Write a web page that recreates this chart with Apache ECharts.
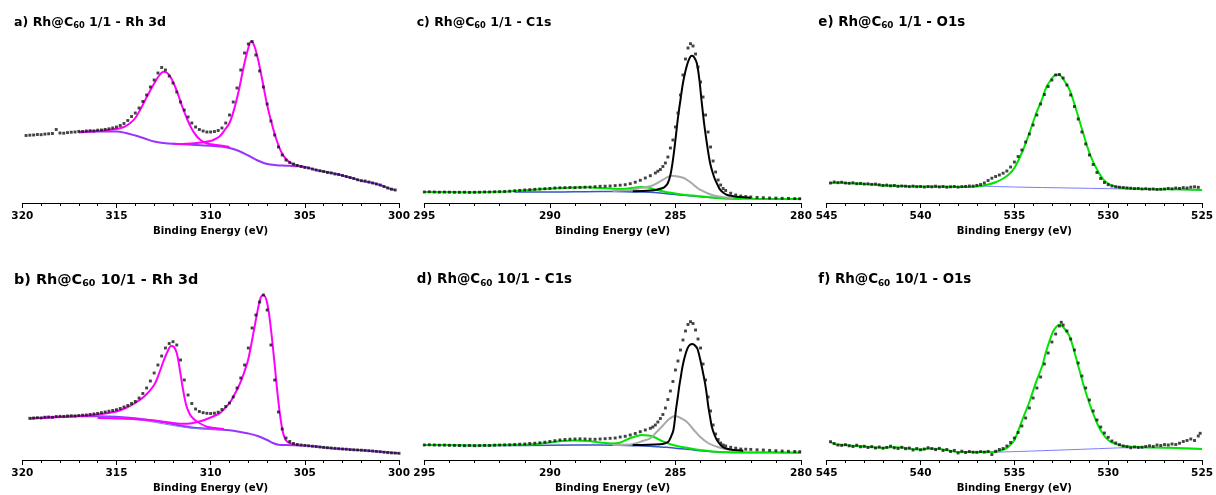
<!DOCTYPE html>
<html><head><meta charset="utf-8">
<script src="https://cdn.jsdelivr.net/npm/echarts@6/dist/echarts.min.js"></script>
<style>html,body{margin:0;padding:0;background:#fff}#c{width:1216px;height:495px}</style>
</head><body><div id="c"></div>
<script>
// ---------- text ----------
const panelLetters = ['a)', 'b)', 'c)', 'd)', 'e)', 'f)'];
const panelRatios = ['1/1', '10/1', '1/1', '10/1', '1/1', '10/1'];
const panelRegions = ['Rh 3d', 'Rh 3d', 'C1s', 'C1s', 'O1s', 'O1s'];
const axisTitle = 'Binding Energy (eV)';
// x ranges [min, max] (axis drawn high -> low)
const xRanges = [[300, 320], [300, 320], [280, 295], [280, 295], [525, 545], [525, 545]];
const xStep = 5;

// ---------- a) Rh@C60 1/1 - Rh 3d ----------
const dataA = [[319.8,67.5],[319.6,67.8],[319.4,68],[319.2,68.5],[319.0,68.3],[318.8,68.9],[318.6,69.2],[318.4,69.5],[318.2,73.5],[318.0,70],[317.8,69.8],[317.6,70.4],[317.4,70.8],[317.2,71],[317.0,71.6],[316.8,71.5],[316.6,72],[316.4,72.3],[316.2,72.1],[316.0,72.8],[315.8,73],[315.6,73.6],[315.4,74.2],[315.2,75],[315.0,76],[314.8,77.5],[314.6,79.5],[314.4,82.5],[314.2,86.5],[314.0,90],[313.8,95],[313.6,101.5],[313.4,108],[313.2,116],[313.0,123],[312.8,130],[312.6,135.5],[312.4,133],[312.2,127],[312.0,120],[311.8,111],[311.6,101],[311.4,93],[311.2,86],[311.0,80],[310.8,76],[310.6,73.5],[310.4,72],[310.2,71],[310.0,71],[309.8,71.5],[309.6,72.5],[309.4,75],[309.2,80],[309.0,88],[308.8,101],[308.6,115],[308.4,133],[308.2,150],[308.0,159],[307.8,161.5],[307.6,148],[307.4,132],[307.2,116],[307.0,99],[306.8,82],[306.6,68],[306.4,56],[306.2,48],[306.0,43],[305.8,40.5],[305.6,39],[305.4,37.5],[305.2,36.5],[305.0,35.5],[304.8,35],[304.6,34],[304.4,33],[304.2,32.2],[304.0,31.5],[303.8,30.5],[303.6,30],[303.4,29],[303.2,28.5],[303.0,27.5],[302.8,26.5],[302.6,25.5],[302.4,24.5],[302.2,23.2],[302.0,22.3],[301.8,22],[301.6,21],[301.4,20],[301.2,19],[301.0,18],[300.8,16.5],[300.6,15],[300.4,13.8],[300.2,13]];
const bgA = [[317,70.5],[316,71.5],[315,71.5],[314.5,70],[314,67.5],[313.5,64.5],[313,61.5],[312.5,60],[312,59.2],[311,58.3],[310,57.3],[309.5,56.5],[309,55],[308.5,52],[308,47.5],[307.5,42.5],[307,39],[306.5,37.8],[306,37.3],[305.5,36.8],[305,36],[304.5,33.5],[304,31.5],[303.5,29.8],[303,27.5],[302.5,25],[302,22.3],[301.5,20.5],[301,18],[300.5,14.5],[300.2,13]];
const peak1A = [[317,71],[316,72],[315.5,73],[315,74],[314.6,76],[314.3,79.5],[314,85],[313.75,93],[313.5,102],[313.25,111],[313,119.5],[312.75,127],[312.5,131.3],[312.3,130],[312.1,125],[311.9,117],[311.7,107],[311.5,96],[311.25,84],[311,74],[310.75,67],[310.5,62.5],[310.25,60],[310,58.8],[309.5,57.5],[309,56]];
const peak2A = [[312,59.3],[311.5,59],[311,59.5],[310.5,60.5],[310,62],[309.75,64],[309.5,67],[309.25,73],[309,80],[308.75,94],[308.5,113],[308.25,136],[308.0,155],[307.85,161.5],[307.7,158],[307.5,145],[307.25,122],[307,98],[306.75,79],[306.5,63],[306.25,51],[306,44],[305.75,40],[305.5,38],[305.25,37],[305,36]];

// ---------- b) Rh@C60 10/1 - Rh 3d ----------
const dataB = [[319.6,41.7],[319.4,42],[319.2,42.3],[319.0,42],[318.8,42.8],[318.6,43],[318.4,42.7],[318.2,43.5],[318.0,43.7],[317.8,43.6],[317.6,44],[317.4,44.2],[317.2,44.1],[317.0,44.5],[316.8,44.8],[316.6,45],[316.4,45.5],[316.2,46],[316.0,46.6],[315.8,47.3],[315.6,48],[315.4,48.8],[315.2,49.5],[315.0,50.3],[314.8,51.5],[314.6,53],[314.4,54.5],[314.2,56.5],[314.0,58.5],[313.8,62],[313.6,66.5],[313.4,72],[313.2,79],[313.0,87],[312.8,95],[312.6,104],[312.4,112],[312.2,116.5],[312.0,118.3],[311.8,115],[311.6,100],[311.4,80],[311.2,65],[311.0,56.5],[310.8,51],[310.6,48.5],[310.4,47.3],[310.2,46.7],[310.0,46.5],[309.8,46.8],[309.6,47.8],[309.4,50.5],[309.2,53.5],[309.0,57],[308.8,63],[308.6,72],[308.4,82],[308.2,95],[308.0,112],[307.8,132],[307.6,145],[307.4,158],[307.2,165],[307.0,150],[306.8,115],[306.6,80],[306.4,48],[306.2,31],[306.0,22],[305.8,18.5],[305.6,16.5],[305.4,15.5],[305.2,15],[305.0,14.6],[304.8,14.2],[304.6,13.8],[304.4,13.4],[304.2,13],[304.0,12.6],[303.8,12.3],[303.6,12],[303.4,11.7],[303.2,11.3],[303.0,11],[302.8,10.8],[302.6,10.4],[302.4,10.2],[302.2,10],[302.0,9.8],[301.8,9.6],[301.6,9.3],[301.4,9],[301.2,8.6],[301.0,8.3],[300.8,7.8],[300.6,7.4],[300.4,7.1],[300.2,6.9],[300.0,6.7]];
const bgB = [[319.6,41.5],[318,43],[317,43.7],[316,43.8],[315,43.3],[314,41.8],[313,39.3],[312,35.8],[311,32.5],[310,31],[309.5,30.4],[309,29.7],[308.5,28.3],[308,26.5],[307.5,24],[307,20],[306.7,17],[306.4,15.3],[306,15],[305,14.5],[304,12.6],[303,11],[302,9.8],[301,8.3],[300,6.7]];
const bgThinB = [[316,43],[315,42.5],[314,40.7],[313,37.8],[312,34.5],[311,31.7],[310,30.7],[309.5,30.2]];
const peak1B = [[319.6,41.5],[318,43],[317,44],[316,45.5],[315,48.5],[314.5,52],[314,57],[313.5,64],[313,75],[312.75,86],[312.5,99],[312.3,108],[312.1,114],[311.95,113],[311.8,107],[311.65,92],[311.5,74],[311.3,55],[311.1,45.5],[310.9,41],[310.6,37],[310.2,33.3],[309.8,32],[309.3,31]];
const peak2B = [[316,42],[315,41.5],[314,40.8],[313,39.5],[312.5,38.2],[312,37],[311.5,36.2],[311,36.8],[310.5,39],[310,42.5],[309.5,47],[309,57],[308.75,65],[308.5,74],[308.25,86],[308,101],[307.75,125],[307.5,150],[307.35,162],[307.2,165],[307.0,157],[306.8,131],[306.6,95],[306.4,58],[306.2,31],[306.0,19.5],[305.7,16],[305.3,15]];

// ---------- c) Rh@C60 1/1 - C1s ----------
const dataC = [[295.0,11],[294.8,11.2],[294.6,11],[294.4,10.8],[294.2,10.9],[294.0,10.8],[293.8,10.7],[293.6,10.7],[293.4,10.8],[293.2,10.6],[293.0,10.7],[292.8,10.8],[292.6,11],[292.4,11],[292.2,11.2],[292.0,11.3],[291.8,11.5],[291.6,11.8],[291.4,12.2],[291.2,12.6],[291.0,13],[290.8,13.3],[290.6,13.7],[290.4,14],[290.2,14.3],[290.0,14.6],[289.8,15],[289.6,15.2],[289.4,15.3],[289.2,15.5],[289.0,15.3],[288.8,15.6],[288.6,15.8],[288.4,15.9],[288.2,16.3],[288.0,16.7],[287.8,16.8],[287.6,17],[287.4,17.4],[287.2,17.8],[287.0,18.3],[286.8,19.3],[286.6,20.8],[286.4,22.7],[286.2,25],[286.0,27.3],[285.8,30],[285.7,31.8],[285.6,33.5],[285.5,36.5],[285.4,40],[285.3,46],[285.2,55],[285.1,63],[285.0,76],[284.9,90],[284.8,108],[284.7,128],[284.6,144],[284.5,155],[284.4,159.3],[284.3,157],[284.2,149],[284.1,136],[284.0,121],[283.9,106],[283.8,88],[283.7,71],[283.6,56],[283.5,42],[283.4,31],[283.3,23],[283.2,18],[283.1,14.5],[283.0,12.5],[282.8,9.8],[282.6,8],[282.4,7],[282.2,6.4],[282.0,6],[281.75,5.6],[281.5,5.3],[281.25,5],[281.0,4.9],[280.75,4.7],[280.5,4.6],[280.25,4.4],[280.05,4.3]];
const mainC = [[286.7,11.7],[286,12.5],[285.75,13.3],[285.5,15],[285.4,16.7],[285.3,20],[285.2,28],[285.1,43],[285.0,63],[284.9,85],[284.8,103],[284.7,120],[284.6,132],[284.5,141],[284.4,146.5],[284.33,147.3],[284.25,145.5],[284.15,140],[284.05,124],[283.95,100],[283.85,78],[283.75,60],[283.62,40],[283.5,29],[283.42,23.3],[283.3,17],[283.22,13.3],[283.1,10.5],[282.96,8.3],[282.7,6.8],[282.43,6],[282,5.3]];
const grayC = [[287.5,12],[287,12.7],[286.7,13.3],[286.4,15],[286.0,16.7],[285.6,21.7],[285.4,24.7],[285.15,27.3],[284.9,26.5],[284.67,25],[284.5,22.5],[284.28,18.3],[284.1,14.5],[283.89,11.7],[283.6,8.5],[283.35,6.7],[283,5.5],[282.7,5]];
const greenC = [[295,11],[294,10.9],[293,10.8],[292,11.2],[291.4,12],[290.5,13.5],[290,14.3],[289.5,15],[289,15.5],[288.5,15.7],[288,15],[287.5,14.3],[287.2,14],[286.8,14.8],[286.4,16],[286.1,15.5],[285.88,14],[285.6,12.3],[285.35,10.7],[285,9.5],[284.67,8.3],[284.3,7.5],[284.02,6.7],[283.6,5.6],[283.35,5],[283,4.6],[282.5,4.3],[282,4.2],[281.5,4],[281,4],[280.5,4],[280,4]];
const blueC = [[291.4,11],[290,11],[289,11.2],[288,11.5],[287,11.3],[286.5,11],[286,10.7],[285.5,9.7],[285,8.5],[284.67,7.7],[284,6.3],[283.35,5],[283,4.6],[282.4,4.3]];

// ---------- d) Rh@C60 10/1 - C1s ----------
const dataD = [[295.0,15],[294.8,15.2],[294.6,15],[294.4,14.8],[294.2,14.9],[294.0,14.7],[293.8,14.6],[293.6,14.5],[293.4,14.3],[293.2,14.5],[293.0,14.3],[292.8,14.4],[292.6,14.6],[292.4,14.5],[292.2,14.8],[292.0,15],[291.8,15.1],[291.6,15.2],[291.4,15.5],[291.2,15.8],[291.0,16],[290.8,16.5],[290.6,16.8],[290.4,17.2],[290.2,17.8],[290.0,18.5],[289.8,19.3],[289.6,20],[289.4,20.5],[289.2,20.8],[289.0,21],[288.8,21.2],[288.6,21],[288.4,20.8],[288.2,20.7],[288.0,21],[287.8,21.3],[287.6,21.7],[287.4,22],[287.2,23],[287.0,23.7],[286.8,25],[286.6,26.5],[286.4,28.3],[286.2,30],[286.0,31.7],[285.9,33],[285.8,35],[285.7,38],[285.6,41.5],[285.5,45.5],[285.4,52],[285.3,60.5],[285.2,69],[285.1,78.5],[285.0,90],[284.9,99],[284.8,110],[284.7,120],[284.6,129],[284.5,135.5],[284.4,138.3],[284.3,136.5],[284.2,130],[284.1,121],[284.0,112],[283.9,96],[283.8,80],[283.7,63],[283.6,49],[283.5,35],[283.4,26],[283.3,20.5],[283.2,17],[283.1,15],[283.0,14],[282.8,12.7],[282.6,11.8],[282.4,11],[282.2,10.8],[282.0,10.6],[281.75,10.2],[281.5,10],[281.25,9.6],[281.0,9.3],[280.75,9],[280.5,8.7],[280.25,8.5],[280.05,8.3]];
const mainD = [[286.7,15],[285.6,15.8],[285.4,16.8],[285.28,18.3],[285.18,23],[285.08,30],[284.98,50],[284.9,64],[284.85,73.3],[284.78,84],[284.72,93.3],[284.62,104],[284.52,111.7],[284.42,115.3],[284.32,116],[284.22,114.5],[284.12,111],[283.98,96.7],[283.9,87],[283.82,76.7],[283.75,65],[283.69,53.3],[283.62,43],[283.55,33.3],[283.45,25.5],[283.35,20],[283.2,15],[283.09,12.7],[282.9,11],[282.69,10],[282.3,9.3]];
const grayD = [[287.5,15],[287,15.3],[286.68,16],[286.3,19],[286.01,21.7],[285.75,28],[285.48,35],[285.25,41],[285.01,44],[284.8,42],[284.55,38.3],[284.3,31],[284.02,23.3],[283.7,17],[283.35,13.3],[283,11],[282.69,10],[282.3,9.3]];
const greenD = [[295,15],[294,14.8],[293,14.5],[292,15],[291,15.5],[290.5,16],[290,17.5],[289.5,19],[289,19.5],[288.5,19],[288,17.5],[287.5,16.5],[287.21,17.3],[286.81,21.7],[286.5,24.3],[286.35,25],[286.1,24.5],[285.88,23.3],[285.48,18.3],[285.2,15.8],[284.94,14],[284.5,12],[284.02,10],[283.5,8.5],[282.96,7.7],[282.5,7.5],[282,7.5],[281,7.5],[280,7.5]];
const blueD = [[295,15],[292,14.5],[290,14.8],[288,15],[287,14.6],[286.5,14.3],[286,13.7],[285.35,12.7],[285,11.8],[284.5,10.7],[284.02,9.3],[283.5,8.3],[282.96,7.7],[282,7.5],[280,7.3]];

// ---------- e) Rh@C60 1/1 - O1s ----------
const dataE = [[544.8,20],[544.6,21],[544.4,20.3],[544.2,20.8],[544.0,20],[543.8,19.7],[543.6,20.2],[543.4,19.3],[543.2,19.6],[543.0,19],[542.8,19.2],[542.6,18.6],[542.4,18.9],[542.2,18.2],[542.0,17.6],[541.8,17.9],[541.6,17.2],[541.4,17.5],[541.2,16.6],[541.0,17],[540.8,16.8],[540.6,16.4],[540.4,16.9],[540.2,16.3],[540.0,16.5],[539.8,16],[539.6,16.5],[539.4,16.2],[539.2,16.8],[539.0,16.1],[538.8,16.5],[538.6,15.8],[538.4,16.2],[538.2,16.5],[538.0,15.9],[537.8,16.4],[537.6,16.6],[537.4,17],[537.2,16.9],[537.0,17.6],[536.8,18.5],[536.6,20],[536.4,22.5],[536.2,24.8],[536.0,26.5],[535.8,28],[535.6,29.8],[535.4,32],[535.2,36],[535.0,41],[534.8,46.5],[534.6,53],[534.4,61],[534.2,69],[534.0,78],[533.8,88],[533.6,99],[533.4,108.5],[533.2,116.5],[533.0,123],[532.8,128],[532.6,128.5],[532.4,125],[532.2,118],[532.0,108],[531.8,96.5],[531.6,84],[531.4,71],[531.2,59],[531.0,48],[530.8,38.5],[530.6,30.5],[530.4,24.5],[530.2,20.5],[530.0,18.3],[529.8,17],[529.6,16.2],[529.4,15.8],[529.2,15.5],[529.0,15.1],[528.8,14.8],[528.6,14.4],[528.4,14.6],[528.2,14],[528.0,14.3],[527.8,13.8],[527.6,14],[527.4,13.5],[527.2,13.7],[527.0,14],[526.8,14.6],[526.6,14.2],[526.4,15],[526.2,14.6],[526.0,15.4],[525.8,15],[525.6,15.8],[525.4,16.2],[525.2,15.7]];
const greenE = [[544.8,20],[544.4,20.5],[544,20],[543.5,19.5],[543,19],[542.5,18.6],[542,17.5],[541.5,17.3],[541,17],[540.5,16.6],[540,16.4],[539,16.3],[538,16],[537,16.5],[536.5,18],[536,20.7],[535.6,24.5],[535.27,29],[535,35],[534.56,52],[534.2,70],[533.85,89],[533.5,105],[533.3,115.7],[533,124.5],[532.79,128.3],[532.6,128],[532.4,124],[532.08,114],[531.8,99],[531.37,72],[531.0,50],[530.66,35.7],[530.3,24.5],[529.96,19],[529.5,16],[529.25,15],[528.19,14],[527,13.7],[526.42,13.7],[525,13]];
const blueE = [[537,17],[535,16],[533,15.3],[531,14.7],[529,14],[527,13.5],[525,13]];

// ---------- f) Rh@C60 10/1 - O1s ----------
const dataF = [[544.8,18.3],[544.6,16.5],[544.4,15],[544.2,14.6],[544.0,15.3],[543.8,14.2],[543.6,13.5],[543.4,14.8],[543.2,13.2],[543.0,13.7],[542.8,12.5],[542.6,13.4],[542.4,12],[542.2,13],[542.0,11.8],[541.8,12.6],[541.6,13.8],[541.4,12.2],[541.2,11.5],[541.0,12.7],[540.8,11.3],[540.6,12],[540.4,10],[540.2,11.5],[540.0,10.2],[539.8,11],[539.6,12.3],[539.4,11.4],[539.2,10.4],[539.0,11.7],[538.8,9.5],[538.6,10.5],[538.4,8.5],[538.2,9.6],[538.0,7],[537.8,8.8],[537.6,7.5],[537.4,8.5],[537.2,7.8],[537.0,7.7],[536.8,8.4],[536.6,7.9],[536.4,8.6],[536.2,5.5],[536.0,8.7],[535.8,10.5],[535.6,11.5],[535.4,14],[535.2,17.5],[535.0,22],[534.8,27.5],[534.6,34],[534.4,42],[534.2,52],[534.0,62],[533.8,72],[533.6,83],[533.4,96],[533.2,107],[533.0,118],[532.8,126],[532.6,134],[532.5,137.7],[532.4,135],[532.2,129],[532.0,121],[531.8,110],[531.6,97],[531.4,84],[531.2,72],[531.0,60],[530.8,49],[530.6,40],[530.4,33],[530.2,27],[530.0,22.7],[529.8,19],[529.6,17],[529.4,15.3],[529.2,14],[529.0,13.3],[528.8,12.2],[528.6,13],[528.4,12.5],[528.2,12.8],[528.0,13.5],[527.8,14.2],[527.6,13.6],[527.4,15],[527.2,14.5],[527.0,15.4],[526.8,15],[526.6,16],[526.4,15.5],[526.2,16.8],[526.0,18.5],[525.8,19.5],[525.6,21],[525.4,19.5],[525.2,24],[525.1,26.7]];
const greenF = [[544.8,18],[544.5,15.5],[544,15],[543.5,14],[543,13.6],[542.5,12.8],[542,12],[541.5,12.8],[541,12.5],[540.5,11.2],[540,10.5],[539.5,11.6],[539,11],[538.5,9.5],[538,8],[537.5,8],[537,7.8],[536.5,8],[536,8.3],[535.5,11],[535.27,14.3],[535,20],[534.56,41],[534.2,58],[533.85,77.7],[533.5,95],[533.32,107.7],[532.96,127.7],[532.75,133.5],[532.58,135.3],[532.4,133],[532.08,124.3],[531.8,108],[531.55,91],[531.3,74],[531.02,57.7],[530.75,44],[530.49,32.7],[530.2,24],[529.96,19.3],[529.6,16],[529.25,14.3],[528.19,12.7],[527,12.3],[526.42,12],[525,11]];
const blueF = [[536.2,7.7],[534,9],[532,10.3],[530,11.7],[529,12.3],[527,12.3],[525,11.5]];

// ---------- layout / style (not data) ----------
const COL_LEFT = [22.3, 424.3, 826.7];
const ROW_TOP = [31, 288];
const GW = 376.7, GH = 172;
const FONT = "'DejaVu Sans', Verdana, sans-serif";
const C = { mag: '#ff00ff', pur: '#9933ff', thin: '#7b7bff', blk: '#000000', gray: '#a9a9a9', grn: '#00e600', blu: '#3456c8', dot: '#141414' };

const panels = [
  { col: 0, row: 0, fs: 12.6, data: dataA, lines: [[bgA, C.pur, 2], [peak1A, C.mag, 2], [peak2A, C.mag, 2]] },
  { col: 0, row: 1, fs: 14.4, data: dataB, lines: [[bgB, C.pur, 2], [bgThinB, C.thin, 1], [peak1B, C.mag, 2], [peak2B, C.mag, 2]] },
  { col: 1, row: 0, fs: 12.5, data: dataC, lines: [[blueC, C.blu, 1.5], [greenC, C.grn, 2], [grayC, C.gray, 2], [mainC, C.blk, 2]] },
  { col: 1, row: 1, fs: 13.4, data: dataD, lines: [[blueD, C.blu, 1.5], [greenD, C.grn, 2], [grayD, C.gray, 2], [mainD, C.blk, 2]] },
  { col: 2, row: 0, fs: 13.4, data: dataE, lines: [[blueE, C.thin, 1], [greenE, C.grn, 2]] },
  { col: 2, row: 1, fs: 13.4, data: dataF, lines: [[blueF, C.thin, 1], [greenF, C.grn, 2]] }
];

const grid = [], xAxis = [], yAxis = [], series = [], title = [];
panels.forEach((p, i) => {
  const left = COL_LEFT[p.col], top = ROW_TOP[p.row];
  grid.push({ left: left, top: top, width: GW, height: GH, containLabel: false });
  xAxis.push({
    gridIndex: i, type: 'value', min: xRanges[i][0], max: xRanges[i][1], interval: xStep, inverse: true,
    name: axisTitle, nameLocation: 'middle', nameGap: 23,
    nameTextStyle: { fontFamily: FONT, fontWeight: 'bold', fontSize: 10.2, color: '#000' },
    axisLine: { show: true, onZero: false, lineStyle: { color: '#000', width: 1 } },
    axisTick: { show: true, length: 5, lineStyle: { color: '#000' } },
    minorTick: { show: true, splitNumber: 5, length: 3, lineStyle: { color: '#000' } },
    splitLine: { show: false }, minorSplitLine: { show: false },
    axisLabel: { margin: 8, fontFamily: FONT, fontWeight: 'bold', fontSize: 10.5, color: '#000', showMinLabel: true, showMaxLabel: true }
  });
  yAxis.push({ gridIndex: i, type: 'value', min: 0, max: GH, show: false, splitLine: { show: false } });
  p.lines.forEach((l, k) => {
    series.push({
      type: 'line', xAxisIndex: i, yAxisIndex: i, data: l[0], showSymbol: false, smooth: 0.35,
      lineStyle: { color: l[1], width: l[2] }, z: 2 + k, silent: true
    });
  });
  series.push({
    type: 'scatter', xAxisIndex: i, yAxisIndex: i, data: p.data, symbol: 'rect', symbolSize: 2.9,
    itemStyle: { color: C.dot }, z: 10, silent: true
  });
  const lh = p.fs * 1.2;
  const center = p.row === 0 ? 22.5 : 280;
  const tx = p.col === 0 ? 14 : (p.col === 1 ? 416.7 : 818.3);
  title.push({
    left: tx, top: center - lh / 2, padding: 0,
    text: '{m|' + panelLetters[i] + ' Rh@C}{s|60}{m| ' + panelRatios[i] + ' - ' + panelRegions[i] + '}',
    textStyle: {
      rich: {
        m: { fontFamily: FONT, fontWeight: 'bold', fontSize: p.fs, lineHeight: lh, color: '#000' },
        s: { fontFamily: FONT, fontWeight: 'bold', fontSize: p.fs * 0.66, lineHeight: p.fs * 0.6, verticalAlign: 'bottom', color: '#000' }
      }
    }
  });
});

const chart = echarts.init(document.getElementById('c'), null, { renderer: 'canvas' });
chart.setOption({ animation: false, backgroundColor: '#fff', title, grid, xAxis, yAxis, series });
</script></body></html>
